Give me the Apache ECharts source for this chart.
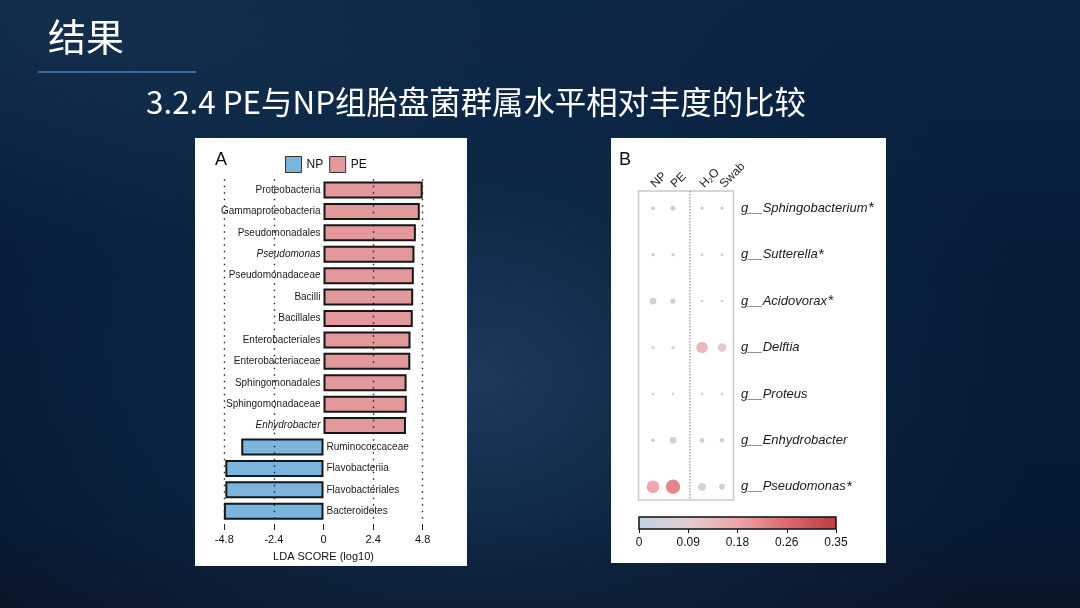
<!DOCTYPE html>
<html><head><meta charset="utf-8">
<script src="https://cdn.jsdelivr.net/npm/echarts@6/dist/echarts.min.js"></script>
<style>
html,body{margin:0;padding:0;width:1080px;height:608px;overflow:hidden;}
body{background:
  radial-gradient(ellipse 560px 440px at 480px 380px, rgba(45,78,115,0.6) 0%, rgba(22,52,86,0.38) 45%, rgba(6,27,54,0) 100%),
  radial-gradient(ellipse 420px 200px at 120px 40px, rgba(30,58,90,0.45) 0%, rgba(6,27,54,0) 100%),
  linear-gradient(180deg, #0c2544 0%, #061c39 45%, #051a35 85%, #0a1628 100%);}
#c{width:1080px;height:608px;}
</style></head><body><div id="c"></div>
<script>
// ---------- Panel A: LEfSe LDA scores ----------
const ldaTaxa = ['Proteobacteria','Gammaproteobacteria','Pseudomonadales','Pseudomonas','Pseudomonadaceae','Bacilli','Bacillales','Enterobacteriales','Enterobacteriaceae','Sphingomonadales','Sphingomonadaceae','Enhydrobacter','Ruminococcaceae','Flavobacteriia','Flavobacteriales','Bacteroidetes'];
const ldaScores = [4.80, 4.66, 4.47, 4.40, 4.37, 4.34, 4.32, 4.21, 4.20, 4.02, 4.03, 3.99, -3.98, -4.75, -4.75, -4.82];
const ldaGroup = ['PE','PE','PE','PE','PE','PE','PE','PE','PE','PE','PE','PE','NP','NP','NP','NP'];
const italicTaxa = ['Pseudomonas','Enhydrobacter'];
const ldaAxisMin = -4.8, ldaAxisMax = 4.8, ldaAxisStep = 2.4;

// ---------- Panel B: genus relative abundance ----------
const groupsLeft = ['NP','PE'];
const groupsRight = ['H2O','Swab'];
const genera = ['g__Sphingobacterium','g__Sutterella','g__Acidovorax','g__Delftia','g__Proteus','g__Enhydrobacter','g__Pseudomonas'];
const significant = [true, true, true, false, false, false, true];
const abundNP   = [0.010, 0.006, 0.040, 0.005, 0.002, 0.008, 0.165];
const abundPE   = [0.018, 0.006, 0.022, 0.005, 0.002, 0.040, 0.220];
const abundH2O  = [0.004, 0.004, 0.003, 0.136, 0.003, 0.016, 0.055];
const abundSwab = [0.004, 0.004, 0.003, 0.072, 0.003, 0.014, 0.028];
const scaleMax = 0.35;
const scaleTickValues = [0, 0.0875, 0.175, 0.2625, 0.35];
const scaleTickLabels = ['0','0.09','0.18','0.26','0.35'];
const scaleColors = ['#bdd5e2','#e4cbd0','#eea5a8','#da6a6d','#c03a3c'];

const PE_COLOR = '#e3999b', NP_COLOR = '#7bb4dd';
const FONT = '"Liberation Sans", Arial, sans-serif';
const CJK = '"Noto Sans CJK SC", sans-serif';

const chart = echarts.init(document.getElementById('c'), null, {renderer:'canvas', width:1080, height:608});

const peData = ldaScores.map((v,i) => ldaGroup[i]==='PE'
  ? {value:v, label:{fontStyle: italicTaxa.includes(ldaTaxa[i]) ? 'italic':'normal'}} : '-');
const npData = ldaScores.map((v,i) => ldaGroup[i]==='NP'
  ? {value:v, label:{fontStyle: italicTaxa.includes(ldaTaxa[i]) ? 'italic':'normal'}} : '-');

const leftPts = [], rightPts = [];
genera.forEach((g,r) => {
  leftPts.push([0, r, abundNP[r]]);
  leftPts.push([1, r, abundPE[r]]);
  rightPts.push([0, r, abundH2O[r]]);
  rightPts.push([1, r, abundSwab[r]]);
});
const bubbleSize = v => 1.2 + 28 * Math.sqrt(v[2]);

const option = {
  animation: false,
  backgroundColor: 'transparent',
  textStyle: {fontFamily: FONT},
  graphic: [
    {type:'text', x:48, y:37, style:{text:'结果', font:'38px ' + CJK, fill:'#ffffff', textVerticalAlign:'middle'}},
    {type:'line', shape:{x1:38, y1:72, x2:196, y2:72}, style:{stroke:'#3b6c9c', lineWidth:2}},
    {type:'text', x:146, y:102.5, style:{text:'3.2.4 PE与NP组胎盘菌群属水平相对丰度的比较', font:'31.4px ' + CJK, fill:'#ffffff', textVerticalAlign:'middle'}},
    {type:'rect', z:-10, shape:{x:195, y:138, width:272, height:428}, style:{fill:'#ffffff'}},
    {type:'rect', z:-10, shape:{x:611, y:138, width:275, height:425}, style:{fill:'#ffffff'}},
    {type:'text', x:215, y:160, style:{text:'A', font:'18px ' + FONT, fill:'#111', textVerticalAlign:'middle'}},
    {type:'text', x:619, y:160, style:{text:'B', font:'18px ' + FONT, fill:'#111', textVerticalAlign:'middle'}},
    {type:'rect', z:1, shape:{x:638.5, y:191, width:95, height:309}, style:{fill:'none', stroke:'#c9c9c9', lineWidth:1.5}},
    {type:'line', z:1, shape:{x1:690, y1:191, x2:690, y2:500}, style:{stroke:'#555', lineWidth:0.8, lineDash:[1.5,1.5]}}
  ],
  legend: {
    data:['NP','PE'], left:280, top:151, itemWidth:16, itemHeight:16, itemGap:6, icon:'rect',
    itemStyle:{borderColor:'#333', borderWidth:1},
    textStyle:{fontSize:12, color:'#111', fontFamily:FONT}
  },
  visualMap: [{type:'continuous', show:false, min:0, max:scaleMax, dimension:2, seriesIndex:[2,3], inRange:{color:scaleColors}}],
  grid: [
    {left:224.3, top:179.3, width:198.4, height:342.7, outerBoundsMode:'none'},
    {left:643, top:185, width:40, height:325, outerBoundsMode:'none'},
    {left:692, top:185, width:40, height:325, outerBoundsMode:'none'},
    {left:639, top:517, width:197, height:12, show:true, borderColor:'#111', borderWidth:1.5, outerBoundsMode:'none',
     backgroundColor: new echarts.graphic.LinearGradient(0,0,1,0, scaleColors.map((c,i)=>({offset:i/(scaleColors.length-1), color:c})))}
  ],
  xAxis: [
    {gridIndex:0, type:'value', min:ldaAxisMin, max:ldaAxisMax, interval:ldaAxisStep, z:10, offset:2,
     axisLine:{show:false}, axisTick:{show:true, length:6, lineStyle:{color:'#222', width:1}},
     axisLabel:{fontSize:11, color:'#111', margin:10, formatter: v => String(Math.round(v*10)/10)},
     splitLine:{show:true, lineStyle:{type:[1.5,5], width:1.4, color:['#222','#222','rgba(0,0,0,0)','#222','#222']}},
     name:'LDA SCORE (log10)', nameLocation:'middle', nameGap:27, nameTextStyle:{fontSize:11, color:'#111'}},
    {gridIndex:1, type:'category', data:groupsLeft, position:'top', offset:-4,
     axisLine:{show:false}, axisTick:{show:false}, splitLine:{show:false},
     axisLabel:{rotate:-45, align:'left', verticalAlign:'middle', fontSize:12, color:'#222', margin:3, interval:0}},
    {gridIndex:2, type:'category', data:groupsRight, position:'top', offset:-4,
     axisLine:{show:false}, axisTick:{show:false}, splitLine:{show:false},
     axisLabel:{rotate:-45, align:'left', verticalAlign:'middle', color:'#222', margin:3, interval:0,
       formatter: v => v==='H2O' ? '{a|H}{s|2}{a|O}' : '{a|' + v + '}',
       rich:{a:{fontSize:12, color:'#222'}, s:{fontSize:7, color:'#222', verticalAlign:'bottom', padding:[5,0,0,0]}}}},
    {gridIndex:3, type:'value', min:0, max:scaleMax,
     axisLine:{show:false}, splitLine:{show:false},
     axisTick:{show:true, customValues:scaleTickValues, length:4, lineStyle:{color:'#111', width:1}},
     axisLabel:{customValues:scaleTickValues, fontSize:12, color:'#111', margin:8,
       formatter: v => scaleTickLabels[Math.round(v/scaleTickValues[1])]}}
  ],
  yAxis: [
    {gridIndex:0, type:'category', inverse:true, data:ldaTaxa, show:false},
    {gridIndex:1, type:'category', inverse:true, data:genera, show:false},
    {gridIndex:2, type:'category', inverse:true, data:genera, position:'right',
     axisLine:{show:false}, axisTick:{show:false}, splitLine:{show:false},
     axisLabel:{margin:9, formatter:(v,i) => significant[i] ? '{n|' + v + '}{s|*}' : '{n|' + v + '}',
       rich:{n:{fontSize:13, fontStyle:'italic', color:'#1a1a1a', fontFamily:FONT},
             s:{fontSize:15, color:'#1a1a1a', fontFamily:FONT, padding:[0,0,0,1]}}}},
    {gridIndex:3, type:'value', show:false, min:0, max:1}
  ],
  series: [
    {type:'bar', name:'PE', xAxisIndex:0, yAxisIndex:0, data:peData, barWidth:17, barGap:'-100%', clip:false,
     itemStyle:{color:PE_COLOR, borderColor:'#161616', borderWidth:2},
     label:{show:true, position:'left', distance:3, formatter:'{b}', fontSize:10, color:'#1a1a1a'},
     emphasis:{disabled:true}},
    {type:'bar', name:'NP', xAxisIndex:0, yAxisIndex:0, data:npData, barWidth:17, barGap:'-100%', clip:false,
     itemStyle:{color:NP_COLOR, borderColor:'#161616', borderWidth:2},
     label:{show:true, position:'right', distance:3, formatter:'{b}', fontSize:10, color:'#1a1a1a'},
     emphasis:{disabled:true}},
    {type:'scatter', xAxisIndex:1, yAxisIndex:1, data:leftPts, symbolSize: bubbleSize,
     itemStyle:{opacity:1}, emphasis:{disabled:true}},
    {type:'scatter', xAxisIndex:2, yAxisIndex:2, data:rightPts, symbolSize: bubbleSize,
     itemStyle:{opacity:1}, emphasis:{disabled:true}}
  ]
};
chart.setOption(option);
</script></body></html>
